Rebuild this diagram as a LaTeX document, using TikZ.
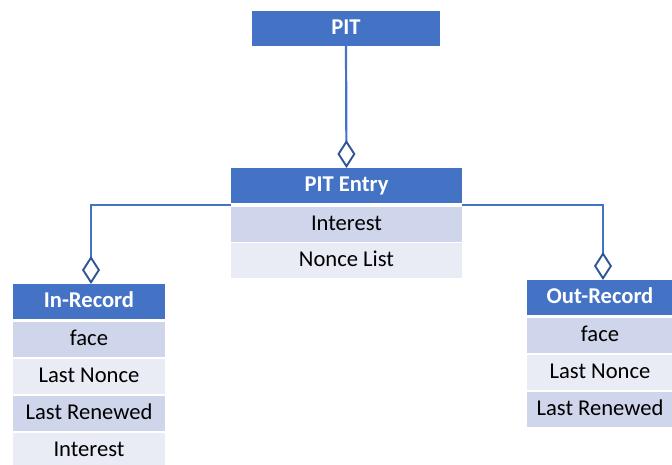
\documentclass[tikz,border=0pt]{standalone}
\usepackage{fontspec}
\setmainfont{Carlito}
\usetikzlibrary{arrows.meta}
\definecolor{hdrblue}{HTML}{4472C4}
\definecolor{rowdark}{HTML}{CFD5EA}
\definecolor{rowlight}{HTML}{E9EBF5}
\definecolor{linkblue}{HTML}{4472C4}
\definecolor{tipblue}{HTML}{2F5597}
\tikzset{
  cell/.style={inner sep=0pt, outer sep=0pt, text height=15pt, text depth=4pt,
    font=\fontsize{22.6pt}{26pt}\selectfont},
  hdr/.style={cell, fill=hdrblue, text=white, font=\fontsize{22.6pt}{26pt}\selectfont\bfseries},
  rowa/.style={cell, fill=rowdark, text=black},
  rowb/.style={cell, fill=rowlight, text=black},
  link/.style={draw=linkblue, line width=2.2pt,
    -{Diamond[open, length=28pt, width=18pt, line width=1.9pt, color=tipblue]}},
}
\begin{document}
\begin{tikzpicture}[x=1pt, y=-1pt]
\useasboundingbox (0,0) rectangle (672,464);
\begin{scope}
\clip (0,0) rectangle (672,464);
% PIT
\node[hdr, minimum width=188pt, minimum height=35pt] (pit) at (346,28.5) {PIT};
% PIT Entry
\node[hdr, minimum width=231pt, minimum height=35pt] (entry) at (346.5,185.5) {PIT Entry};
\node[rowa, minimum width=231pt, minimum height=35pt] (entryinterest) at (346.5,224.5) {Interest};
\node[rowb, minimum width=231pt, minimum height=35pt] (entrynonce) at (346.5,260.5) {Nonce List};
\coordinate (entryL) at ([yshift=-2pt]entry.south west);
\coordinate (entryR) at ([yshift=-2pt]entry.south east);
% In-Record
\node[hdr, minimum width=152pt, minimum height=35pt] (inrec) at (89,301.5) {In-Record};
\node[rowa, minimum width=152pt, minimum height=35pt] (inface) at (89,339.5) {face};
\node[rowb, minimum width=152pt, minimum height=35pt] (innonce) at (89,376.5) {Last Nonce};
\node[rowa, minimum width=152pt, minimum height=35pt] (inrenew) at (89,413.5) {Last Renewed};
\node[rowb, minimum width=152pt, minimum height=35pt] (ininterest) at (89,450.5) {Interest};
% Out-Record
\node[hdr, minimum width=146pt, minimum height=35pt] (outrec) at (600,297.5) {Out-Record};
\node[rowa, minimum width=146pt, minimum height=35pt] (outface) at (600,335.5) {face};
\node[rowb, minimum width=146pt, minimum height=35pt] (outnonce) at (600,372.5) {Last Nonce};
\node[rowa, minimum width=146pt, minimum height=35pt] (outrenew) at (600,409.5) {Last Renewed};
\end{scope}
% aggregation links
\draw[link] (pit.south) -- (entry.north);
\draw[link] (entryL) -| ([xshift=2pt]inrec.north);
\draw[link] (entryR) -| ([xshift=3pt]outrec.north);
\end{tikzpicture}
\end{document}
